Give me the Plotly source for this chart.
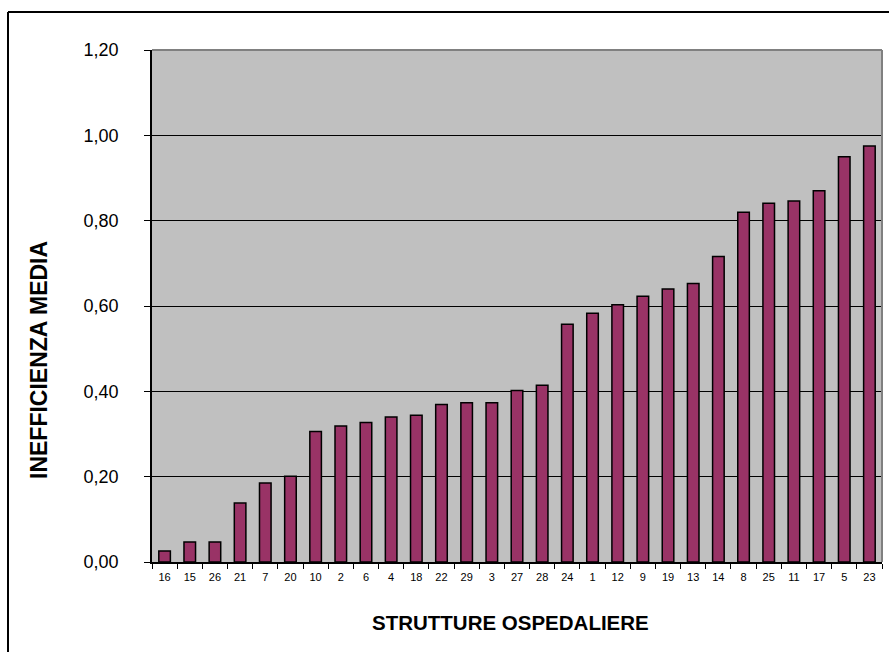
import plotly.graph_objects as go

strutture = ["16", "15", "26", "21", "7", "20", "10", "2", "6", "4", "18", "22", "29", "3",
             "27", "28", "24", "1", "12", "9", "19", "13", "14", "8", "25", "11", "17", "5", "23"]
inefficienza = [0.026, 0.047, 0.047, 0.138, 0.185, 0.201, 0.306, 0.319, 0.327, 0.340, 0.344,
                0.369, 0.373, 0.373, 0.402, 0.414, 0.557, 0.583, 0.603, 0.623, 0.640, 0.653,
                0.716, 0.820, 0.841, 0.846, 0.870, 0.950, 0.975]
y_ticks = [0, 0.2, 0.4, 0.6, 0.8, 1.0, 1.2]

FONT = "Liberation Sans, Arial, sans-serif"

fig = go.Figure()
fig.add_trace(go.Bar(
    x=strutture, y=inefficienza,
    marker=dict(color="#993366", line=dict(color="#000000", width=1.5)),
))

W, H = 889, 652
L, R, T, B = 152, 7, 50, 90
pw, ph = W - L - R, H - T - B

def px(xp):
    return (xp - L) / pw

def py(yp):
    return (H - B - yp) / ph

fig.update_layout(
    width=W, height=H,
    margin=dict(l=L, r=R, t=T, b=B, pad=0),
    paper_bgcolor="white",
    plot_bgcolor="#C0C0C0",
    separators=",.",
    bargap=0.54,
    showlegend=False,
    font=dict(family=FONT, color="black"),
    xaxis=dict(
        type="category",
        tickson="boundaries",
        ticks="outside", ticklen=5, tickcolor="black", tickwidth=1,
        showline=True, linecolor="black", linewidth=1.5,
        showgrid=False,
        tickfont=dict(size=11, family=FONT),
        ticklabelstandoff=4,
    ),
    yaxis=dict(
        range=[0, 1.2],
        tickvals=y_ticks,
        tickformat=".2f",
        ticks="outside", ticklen=6, tickcolor="black", tickwidth=1,
        showline=True, linecolor="black", linewidth=1.5,
        showgrid=True, gridcolor="black", gridwidth=1,
        zeroline=False,
        tickfont=dict(size=18, family=FONT),
        ticklabelstandoff=22,
    ),
    shapes=[
        # plot area top & right border (gray)
        dict(type="line", xref="paper", yref="paper", x0=0, x1=1, y0=1, y1=1,
             line=dict(color="#808080", width=2)),
        dict(type="line", xref="paper", yref="paper", x0=1, x1=1, y0=0, y1=1,
             line=dict(color="#808080", width=2)),
        # outer chart frame (left & top visible)
        dict(type="line", xref="paper", yref="paper", x0=px(8), x1=px(900), y0=py(12), y1=py(12),
             line=dict(color="black", width=2)),
        dict(type="line", xref="paper", yref="paper", x0=px(8), x1=px(8), y0=py(12), y1=py(670),
             line=dict(color="black", width=2)),
    ],
    annotations=[
        dict(text="<b>STRUTTURE OSPEDALIERE</b>", xref="paper", yref="paper",
             x=px(510), y=py(622), showarrow=False, xanchor="center", yanchor="middle",
             font=dict(size=20.5, family=FONT, color="black")),
        dict(text="<b>INEFFICIENZA MEDIA</b>", xref="paper", yref="paper",
             x=px(39), y=py(360), showarrow=False, xanchor="center", yanchor="middle",
             textangle=-90,
             font=dict(size=23, family=FONT, color="black")),
    ],
)

fig.write_html("out.html")
